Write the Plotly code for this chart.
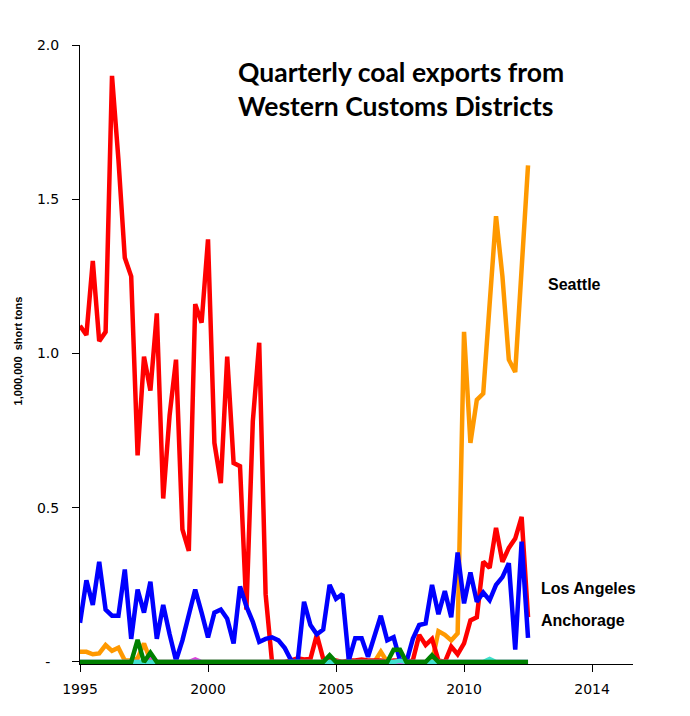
import plotly.graph_objects as go

# quarterly coal exports, million short tons, 1995Q1 .. 2012Q3
quarters = [f"{y}Q{q}" for y in range(1995, 2013) for q in range(1, 5)][:71]

seattle = [0.033, 0.033, 0.025, 0.028, 0.055, 0.036, 0.046, 0.005, 0.005, 0.012,
           0.06, 0.005, 0.0, 0.0, 0.0, 0.0, 0.0, 0.0, 0.0, 0.0,
           0.0, 0.0, 0.0, 0.0, 0.0, 0.0, 0.0, 0.0, 0.0, 0.0,
           0.0, 0.0, 0.0, 0.0, 0.0, 0.0, 0.0, 0.0, 0.0, 0.0,
           0.0, 0.0, 0.0, 0.0, 0.0, 0.0, 0.0, 0.033, 0.0, 0.0,
           0.0, 0.0, 0.0, 0.0, 0.0, 0.0, 0.1, 0.088, 0.07, 0.093,
           1.07, 0.71, 0.85, 0.87, 1.16, 1.445, 1.25, 0.98, 0.94, 1.27,
           1.61]

los_angeles = [1.09, 1.06, 1.30, 1.04, 1.07, 1.90, 1.63, 1.31, 1.25, 0.67,
               0.99, 0.88, 1.13, 0.53, 0.80, 0.98, 0.43, 0.36, 1.16, 1.10,
               1.37, 0.71, 0.58, 0.99, 0.645, 0.635, 0.17, 0.78, 1.035, 0.22,
               0.0, 0.0, 0.0, 0.005, 0.012, 0.008, 0.01, 0.088, 0.01, 0.005,
               0.005, 0.0, 0.005, 0.005, 0.008, 0.005, 0.005, 0.005, 0.0, 0.005,
               0.005, 0.0, 0.005, 0.088, 0.055, 0.075, 0.005, 0.0, 0.05, 0.025,
               0.06, 0.135, 0.145, 0.325, 0.305, 0.435, 0.325, 0.37, 0.40, 0.47,
               0.145]

anchorage = [0.127, 0.265, 0.185, 0.325, 0.17, 0.15, 0.15, 0.30, 0.075, 0.235,
             0.16, 0.26, 0.075, 0.185, 0.09, 0.005, 0.07, 0.15, 0.235, 0.16,
             0.08, 0.16, 0.17, 0.14, 0.06, 0.245, 0.18, 0.13, 0.065, 0.075,
             0.08, 0.07, 0.045, 0.005, 0.0, 0.195, 0.12, 0.09, 0.105, 0.25,
             0.205, 0.22, 0.005, 0.077, 0.077, 0.017, 0.08, 0.15, 0.07, 0.08,
             0.005, 0.0, 0.075, 0.12, 0.125, 0.25, 0.155, 0.23, 0.145, 0.355,
             0.19, 0.29, 0.195, 0.225, 0.2, 0.25, 0.275, 0.32, 0.04, 0.39,
             0.078]

other_magenta = [0.0] * 71
other_magenta[11] = 0.02
other_magenta[18] = 0.008

other_cyan = [0.0] * 71
other_cyan[50] = 0.004
other_cyan[64] = 0.01

other_green = [0.0] * 71
other_green[9] = 0.072
other_green[11] = 0.03
other_green[23] = 0.003
other_green[39] = 0.022
other_green[49] = 0.04
other_green[50] = 0.04
other_green[55] = 0.022

tick_pos = [0, 20, 40, 60, 80]
tick_years = ["1995", "2000", "2005", "2010", "2014"]
y_ticks = [0, 0.5, 1.0, 1.5, 2.0]
y_labels = ["-\u00a0\u00a0", "0.5", "1.0", "1.5", "2.0"]

x = list(range(len(quarters)))

series = [
    ("Seattle", seattle, "#FF9900"),
    ("Los Angeles", los_angeles, "#FF0000"),
    ("Anchorage", anchorage, "#0000FF"),
    ("other (magenta)", other_magenta, "#E040E0"),
    ("other (cyan)", other_cyan, "#40E0D0"),
    ("other (green)", other_green, "#008000"),
]

fig = go.Figure()
for name, vals, color in series:
    fig.add_trace(go.Scatter(x=x, y=vals, name=name, mode="lines",
                             customdata=quarters,
                             hovertemplate="%{customdata}: %{y}<extra>" + name + "</extra>",
                             line=dict(color=color, width=4.5)))

# page body has an 8px margin, so the figure is 8px smaller than the window
fig.update_layout(
    width=682, height=708,
    margin=dict(l=72, r=57, t=37, b=52),
    paper_bgcolor="white", plot_bgcolor="white",
    showlegend=False,
    font=dict(family="DejaVu Sans", size=14, color="black"),
)
fig.update_xaxes(range=[0, 86.4], tickvals=tick_pos, ticktext=tick_years,
                 showgrid=False, zeroline=False, showline=True, linecolor="black",
                 linewidth=1, ticks="outside", ticklen=7, tickcolor="black",
                 ticklabelstandoff=5, tickfont=dict(size=14))
fig.update_yaxes(range=[-0.0065, 2.0], tickvals=y_ticks, ticktext=y_labels,
                 showgrid=False, zeroline=False, showline=True, linecolor="black",
                 linewidth=1, ticks="outside", ticklen=7, tickcolor="black",
                 ticklabelstandoff=10, tickfont=dict(size=14))

label_font = dict(family="Liberation Sans", size=16, color="black")
fig.add_annotation(x=72.8, y=1.225, text="<b>Seattle</b>", showarrow=False,
                   xanchor="left", yanchor="middle", font=label_font)
fig.add_annotation(x=71.7, y=0.237, text="<b>Los Angeles</b>", showarrow=False,
                   xanchor="left", yanchor="middle", font=label_font)
fig.add_annotation(x=71.7, y=0.133, text="<b>Anchorage</b>", showarrow=False,
                   xanchor="left", yanchor="middle", font=label_font)

fig.add_annotation(xref="paper", yref="paper", x=0.283, y=0.985,
                   text="<b>Quarterly coal exports from<br>Western Customs Districts</b>",
                   showarrow=False, xanchor="left", yanchor="top", align="left",
                   font=dict(family="Lato", size=26.5, color="black"))

fig.add_annotation(xref="paper", yref="paper", x=0, y=0.505, xshift=-62,
                   text="<b>1,000,000  short tons</b>", textangle=-90,
                   showarrow=False, xanchor="center", yanchor="middle",
                   font=dict(family="Liberation Sans", size=11, color="black"))

fig.write_html("out.html")
